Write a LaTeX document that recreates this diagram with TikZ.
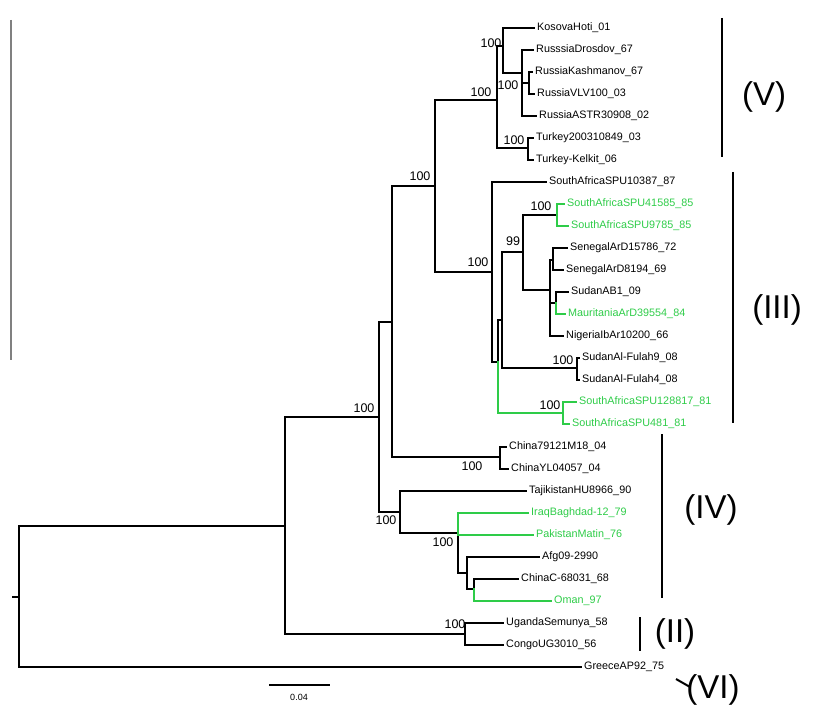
\documentclass[tikz,border=0pt]{standalone}
\usepackage{fontspec}
\setmainfont{Liberation Sans}
\definecolor{treegreen}{RGB}{46,204,72}

\begin{document}
\begin{tikzpicture}[x=1pt,y=-1pt,
leaf/.style={anchor=west,inner xsep=3pt,inner ysep=0pt,text height=7.8pt,text depth=2.4pt,font=\fontsize{10.8}{12}\selectfont},
gleaf/.style={leaf,text=treegreen},
boot/.style={inner sep=0pt,font=\fontsize{12.5}{14}\selectfont},
clade/.style={inner sep=0pt,font=\fontsize{33}{36}\selectfont},
br/.style={line width=2.1pt,line cap=rect},
gbr/.style={line width=1.7pt,line cap=rect,draw=treegreen},
bar/.style={line width=2.8pt}]

\useasboundingbox (0,0) rectangle (818,711);

\node[leaf](kosova) at (534,28) {KosovaHoti\_01};
\node[leaf](drosdov) at (533,50) {RusssiaDrosdov\_67};
\node[leaf](kashmanov) at (532,72) {RussiaKashmanov\_67};
\node[leaf](vlv) at (534,94) {RussiaVLV100\_03};
\node[leaf](astr) at (536,116) {RussiaASTR30908\_02};
\node[leaf](turkey) at (533,138) {Turkey200310849\_03};
\node[leaf](kelkit) at (533,160) {Turkey-Kelkit\_06};
\node[leaf](spuA) at (546,182) {SouthAfricaSPU10387\_87};
\node[gleaf](spuB) at (564,204) {SouthAfricaSPU41585\_85};
\node[gleaf](spuC) at (568,226) {SouthAfricaSPU9785\_85};
\node[leaf](senA) at (567,248) {SenegalArD15786\_72};
\node[leaf](senB) at (563,270) {SenegalArD8194\_69};
\node[leaf](sudan) at (568,292) {SudanAB1\_09};
\node[gleaf](maur) at (565,314) {MauritaniaArD39554\_84};
\node[leaf](nigeria) at (563,336) {NigeriaIbAr10200\_66};
\node[leaf](fulahA) at (579,358) {SudanAl-Fulah9\_08};
\node[leaf](fulahB) at (579,380) {SudanAl-Fulah4\_08};
\node[gleaf](spuD) at (576,402) {SouthAfricaSPU128817\_81};
\node[gleaf](spuE) at (569,424) {SouthAfricaSPU481\_81};
\node[leaf](chinaA) at (506,447) {China79121M18\_04};
\node[leaf](chinaB) at (508,469) {ChinaYL04057\_04};
\node[leaf](tajik) at (526,491) {TajikistanHU8966\_90};
\node[gleaf](iraq) at (528,513) {IraqBaghdad-12\_79};
\node[gleaf](pakistan) at (533,535) {PakistanMatin\_76};
\node[leaf](afg) at (539,557) {Afg09-2990};
\node[leaf](chinaC) at (518,579) {ChinaC-68031\_68};
\node[gleaf](oman) at (551,601) {Oman\_97};
\node[leaf](uganda) at (503,623) {UgandaSemunya\_58};
\node[leaf](congo) at (503,645) {CongoUG3010\_56};
\node[leaf](greece) at (581,667) {GreeceAP92\_75};

\coordinate(stub) at (13,597);
\coordinate(root) at (19,597);
\coordinate(inner) at (285,526);
\coordinate(core) at (379,417);
\coordinate(north) at (392,322);
\coordinate(top) at (435,186);
\coordinate(cV) at (497,100);
\coordinate(kos) at (503,46);
\coordinate(rus) at (522,73);
\coordinate(kv) at (529,83);
\coordinate(tur) at (528,148);
\coordinate(cIII) at (492,272);
\coordinate(afr) at (498,362);
\coordinate(west) at (502,320);
\coordinate(nn) at (523,252);
\coordinate(spu) at (557,215);
\coordinate(sahel) at (550,290);
\coordinate(sen) at (553,260);
\coordinate(sud) at (556,303);
\coordinate(ful) at (577,368);
\coordinate(spuS) at (563,413);
\coordinate(chn) at (500,457);
\coordinate(cIV) at (400,512);
\coordinate(asia) at (458,533);
\coordinate(afgc) at (467,573);
\coordinate(cho) at (474,589);
\coordinate(cII) at (465,634);

\draw[br] (stub) -- (root);
\draw[br] (root) |- (inner);
\draw[br] (root) |- (greece.west);
\draw[br] (inner) |- (core);
\draw[br] (inner) |- (cII);
\draw[br] (cII) |- (uganda.west);
\draw[br] (cII) |- (congo.west);
\draw[br] (core) |- (north);
\draw[br] (core) |- (cIV);
\draw[br] (north) |- (top);
\draw[br] (north) |- (chn);
\draw[br] (chn) |- (chinaA.west);
\draw[br] (chn) |- (chinaB.west);
\draw[br] (top) |- (cV);
\draw[br] (top) |- (cIII);
\draw[br] (cV) |- (kos);
\draw[br] (cV) |- (tur);
\draw[br] (kos) |- (kosova.west);
\draw[br] (kos) |- (rus);
\draw[br] (rus) |- (drosdov.west);
\draw[br] (rus) |- (kv);
\draw[br] (rus) |- (astr.west);
\draw[br] (kv) |- (kashmanov.west);
\draw[br] (kv) |- (vlv.west);
\draw[br] (tur) |- (turkey.west);
\draw[br] (tur) |- (kelkit.west);
\draw[br] (cIII) |- (spuA.west);
\draw[br] (cIII) |- (afr);
\draw[br] (afr) |- (west);
\draw[gbr] (afr) |- (spuS);
\draw[gbr] (spuS) |- (spuD.west);
\draw[gbr] (spuS) |- (spuE.west);
\draw[br] (west) |- (nn);
\draw[br] (west) |- (ful);
\draw[br] (ful) |- (fulahA.west);
\draw[br] (ful) |- (fulahB.west);
\draw[br] (nn) |- (spu);
\draw[gbr] (spu) |- (spuB.west);
\draw[gbr] (spu) |- (spuC.west);
\draw[br] (nn) |- (sahel);
\draw[br] (sahel) |- (sen);
\draw[br] (sahel) |- (sud);
\draw[br] (sahel) |- (nigeria.west);
\draw[br] (sen) |- (senA.west);
\draw[br] (sen) |- (senB.west);
\draw[br] (sud) |- (sudan.west);
\draw[gbr] (sud) |- (maur.west);
\draw[br] (cIV) |- (tajik.west);
\draw[br] (cIV) |- (asia);
\draw[br] (asia) |- (afgc);
\draw[gbr] (asia) |- (iraq.west);
\draw[gbr] (asia) |- (pakistan.west);
\draw[br] (afgc) |- (afg.west);
\draw[br] (afgc) |- (cho);
\draw[br] (cho) |- (chinaC.west);
\draw[gbr] (cho) |- (oman.west);

\node[boot](bKos) at (491,43) {100};
\node[boot](bKv) at (508,85) {100};
\node[boot](bTur) at (514,140) {100};
\node[boot](bV) at (481,92) {100};
\node[boot](bTop) at (420,176) {100};
\node[boot](bIII) at (478,262) {100};
\node[boot](bCore) at (364,408) {100};
\node[boot](bChn) at (472,466) {100};
\node[boot](bIV) at (386,520) {100};
\node[boot](bAsia) at (443,542) {100};
\node[boot](bII) at (455,624) {100};
\node[boot](bNn) at (513,241) {99};
\node[boot](bSpu) at (541,206) {100};
\node[boot](bFul) at (563,360) {100};
\node[boot](bSpuS) at (550,405) {100};

\coordinate(vTop) at (722,18);
\coordinate(vBot) at (722,157);
\coordinate(iiiTop) at (733,172);
\coordinate(iiiBot) at (733,423);
\coordinate(ivTop) at (662,434);
\coordinate(ivBot) at (662,598);
\coordinate(iiTop) at (640,617);
\coordinate(iiBot) at (640,651);
\coordinate(viA) at (676,679);
\coordinate(viB) at (690,687);

\draw[bar] (vTop) -- (vBot);
\draw[bar] (iiiTop) -- (iiiBot);
\draw[bar] (ivTop) -- (ivBot);
\draw[bar] (iiTop) -- (iiBot);
\draw[line width=2pt] (viA) -- (viB);

\node[clade](lV) at (764,97) {(V)};
\node[clade](lIII) at (777,310) {(III)};
\node[clade](lIV) at (711,510) {(IV)};
\node[clade](lII) at (675,634) {(II)};
\node[clade](lVI) at (713,690) {(VI)};

\coordinate(sbA) at (269,685);
\coordinate(sbB) at (330,685);
\draw[line width=1.5pt] (sbA) -- (sbB);
\node[inner sep=0pt,font=\fontsize{9}{10}\selectfont](sbLabel) at (299,697) {0.04};

\coordinate(edgeTop) at (11,20);
\coordinate(edgeBot) at (11,360);
\draw[line width=1.3pt,draw=gray] (edgeTop) -- (edgeBot);
\end{tikzpicture}
\end{document}
